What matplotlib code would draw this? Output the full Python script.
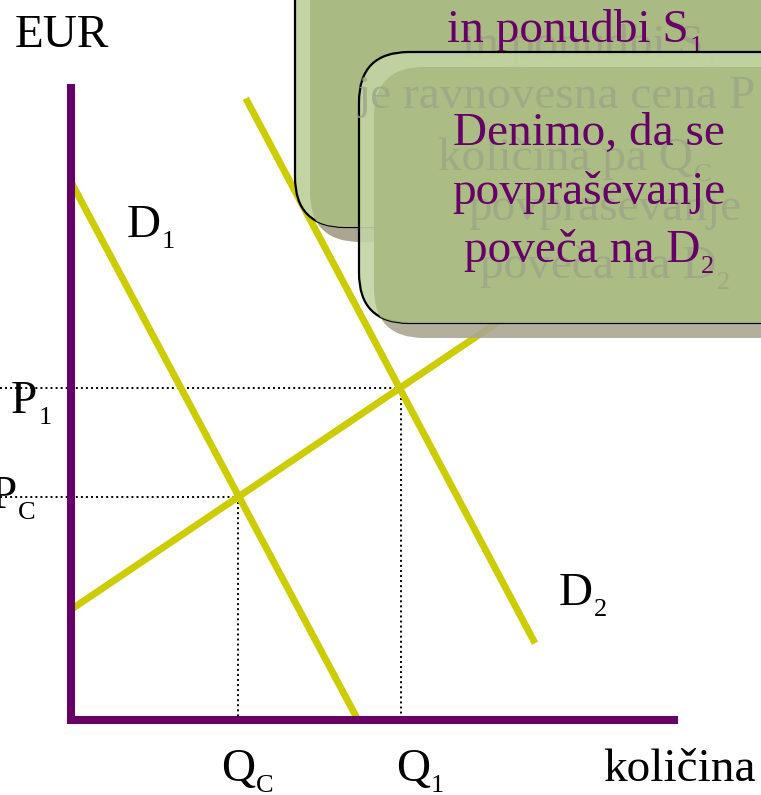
import matplotlib.pyplot as plt
from matplotlib.patches import FancyBboxPatch

plt.rcParams['font.family'] = ['Liberation Serif', 'DejaVu Serif']

# krivulje povpraševanja in ponudbe (model units)
d1_q = [0.0, 4.8]
d1_p = [9.0, 0.0]
d2_q = [2.93, 7.75]
d2_p = [10.36, 1.28]
s_q = [0.0, 8.42]
s_p = [1.83, 7.5]

# ravnovesja: C in 1
eq_q = [2.8, 5.52]
eq_p = [3.72, 5.53]

box1_lines = [("in ponudbi S", "1")]
box2_lines = [("Denimo, da se", ""), ("povpraševanje", ""), ("poveča na D", "2")]
ghost_lines = [("je ravnovesna cena P", ""), ("količina pa Q", "C")]

PURPLE = "#660066"
YELLOW = "#cccc00"
GHOST = "#9da585"
W, H = 761, 795
FS = 34
SFS = 19

fig = plt.figure(figsize=(W / 100, H / 100), dpi=100)
ax = fig.add_axes([0, 0, 1, 1])
ax.set_xlim(-70 / 60, (W - 70) / 60)
ax.set_ylim((720 - H) / 60, 720 / 60)
ax.axis("off")

x0 = ax.get_xlim()[0]
dots = (0, (1, 1.6))
for q, p in zip(eq_q, eq_p):
    ax.plot([x0, q], [p, p], color="black", lw=1.4, ls=dots, zorder=1)
    ax.plot([q, q], [p, 0], color="black", lw=1.4, ls=dots, zorder=1)

for xs, ys in [(d1_q, d1_p), (d2_q, d2_p), (s_q, s_p)]:
    ax.plot(xs, ys, color=YELLOW, lw=5, solid_capstyle="butt", zorder=2)

# osi
ax.plot([0.02, 0.02], [-0.07, 10.6], color=PURPLE, lw=5.8, solid_capstyle="butt", zorder=3)
ax.plot([-0.05, 10.13], [0, 0], color=PURPLE, lw=5.8, solid_capstyle="butt", zorder=3)

# plast z oznakami in okvirji (v pikslih)
ov = fig.add_axes([0, 0, 1, 1], zorder=5)
ov.set_xlim(0, W)
ov.set_ylim(H, 0)
ov.axis("off")
ov.patch.set_alpha(0)
rend = fig.canvas.get_renderer()


def width(s, size):
    t = ov.text(0, 0, s, fontsize=size)
    w = t.get_window_extent(rend).width
    t.remove()
    return w


def label(x, y, main, sub="", ha="left", color="black", z=8, clip=None, alpha=1.0):
    wm = width(main, FS)
    ws = width(sub, SFS) + 1 if sub else 0
    if ha == "center":
        x -= (wm + ws) / 2
    out = [ov.text(x, y, main, fontsize=FS, color=color, va="baseline",
                   zorder=z, alpha=alpha)]
    if sub:
        out.append(ov.text(x + wm + 1, y + 11, sub, fontsize=SFS, color=color,
                           va="baseline", zorder=z, alpha=alpha))
    if clip is not None:
        for t in out:
            t.set_clip_path(clip)


label(15, 47, "EUR")
label(127, 237, "D", "1")
label(559, 605, "D", "2")
label(11, 413, "P", "1")
label(-9, 508, "P", "C")
label(221, 781, "Q", "C")
label(396, 781, "Q", "1")
label(603, 781, "količina")


def box(x, y, w, h, a, z):
    st = "round,pad=0,rounding_size=50"
    sh = FancyBboxPatch((x + 15, y + 15), w, h, boxstyle=st,
                        fc=(0.675, 0.651, 0.569, a), ec="none", zorder=z)
    main = FancyBboxPatch((x, y), w, h, boxstyle=st,
                          fc=(0.76, 0.83, 0.64, a), ec="black", lw=1.6, zorder=z + 1)
    inner = FancyBboxPatch((x + 15, y + 15), w, h, boxstyle=st,
                           fc=(0.663, 0.729, 0.51, a), ec="none", zorder=z + 2)
    ov.add_patch(sh)
    ov.add_patch(main)
    ov.add_patch(inner)
    inner.set_clip_path(main)
    return main


b1 = box(295, -60, 540, 287, 1.0, 10)
label(590, 57, *box1_lines[0], ha="center", color=GHOST, z=13, clip=b1)
label(575, 42, *box1_lines[0], ha="center", color=PURPLE, z=14)

b2 = box(359, 52, 480, 271, 0.9, 20)
label(357, 108, *ghost_lines[0], color=GHOST, z=23, alpha=0.8)
label(438, 170, *ghost_lines[1], color=GHOST, z=23, alpha=0.8)
for i, line in enumerate(box2_lines[1:]):
    label(605, 220 + 58 * i, *line, ha="center", color=GHOST, z=23, alpha=0.8)
for i, line in enumerate(box2_lines):
    label(589, 145 + 58.5 * i, *line, ha="center", color=PURPLE, z=24)

fig.savefig("out.png", dpi=100)
